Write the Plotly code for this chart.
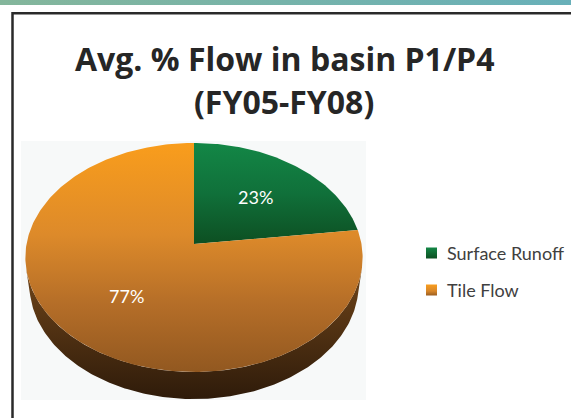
import numpy as np
import plotly.graph_objects as go

# ---------------- data ----------------
categories = ["Surface Runoff", "Tile Flow"]
values = [23, 77]
pct_labels = ["23%", "77%"]
title_lines = ["Avg. % Flow in basin P1/P4", "(FY05-FY08)"]

# ---------------- style ----------------
W, H = 571, 418
top_scales = [
    [[0, "#138746"], [0.5, "#10703a"], [1, "#0d4f22"]],
    [[0, "#f99d1c"], [0.4, "#dd8a2a"], [0.7, "#b56e28"], [1, "#925820"]],
]
side_scales = [
    [[0, "#0d4f22"], [1, "#06260f"]],
    [[0, "#6e4419"], [0.5, "#4f3012"], [1, "#2e1b0a"]],
]
legend_scales = [
    [[0, "#138746"], [1, "#0d4f22"]],
    [[0, "#f99d1c"], [0.6, "#d7862a"], [1, "#9a5d20"]],
]
FONT = "Lato"
TITLE_FONT = "Open Sans"

# 3D pie geometry (perspective projection of a tilted disc)
CX, CY = 194.0, 244.0
FOCAL = 1050.0
DIST = 6.27
ELEV = np.radians(42.4)
THICK = 0.223
LABEL_R = 0.58


def proj(x, y, z):
    v = y * np.sin(ELEV) + z * np.cos(ELEV)
    depth = DIST + y * np.cos(ELEV) - z * np.sin(ELEV)
    return CX + FOCAL * x / depth, CY - FOCAL * v / depth


def rim(theta, z):
    return proj(np.sin(theta), np.cos(theta), np.full_like(theta, z))


fig = go.Figure()

# top decorative band
fig.add_trace(go.Scatter(
    x=[0, W, W, 0, 0], y=[0, 0, 5, 5, 0], mode="lines", fill="toself",
    line=dict(width=0), hoverinfo="skip", showlegend=False,
    fillgradient=dict(type="horizontal",
                      colorscale=[[0, "#84b69b"], [1, "#68b0b9"]]),
))

total = float(sum(values))
bounds = np.concatenate([[0], np.cumsum(values)]) / total * 2 * np.pi
vis0 = np.arccos(-1.0 / (DIST * np.cos(ELEV)))
vis1 = 2 * np.pi - vis0

# side walls (drawn first)
for i, cat in enumerate(categories):
    a, b = max(bounds[i], vis0), min(bounds[i + 1], vis1)
    if b <= a:
        continue
    th = np.linspace(a, b, 200)
    xt, yt = rim(th, 0.0)
    xb, yb = rim(th[::-1], -THICK)
    xs = np.concatenate([xt, xb, xt[:1]])
    ys = np.concatenate([yt, yb, yt[:1]])
    fig.add_trace(go.Scatter(
        x=xs, y=ys, mode="lines", fill="toself", line=dict(width=0),
        hoverinfo="skip", showlegend=False,
        fillgradient=dict(type="vertical", colorscale=side_scales[i],
                          start=float(ys.min()), stop=float(ys.max())),
    ))

# top faces
for i, cat in enumerate(categories):
    n = max(int(400 * values[i] / total), 20)
    th = np.linspace(bounds[i], bounds[i + 1], n)
    xr, yr = rim(th, 0.0)
    xs = np.concatenate([[CX], xr, [CX]])
    ys = np.concatenate([[CY], yr, [CY]])
    fig.add_trace(go.Scatter(
        x=xs, y=ys, mode="lines", fill="toself", line=dict(width=0),
        name=cat, hoverinfo="name", showlegend=False,
        fillgradient=dict(type="vertical", colorscale=top_scales[i],
                          start=float(ys.min()), stop=float(ys.max())),
    ))
    mid = (bounds[i] + bounds[i + 1]) / 2
    lx, ly = proj(LABEL_R * np.sin(mid), LABEL_R * np.cos(mid), 0.0)
    fig.add_annotation(x=float(lx), y=float(ly), text=pct_labels[i],
                       showarrow=False, xanchor="center", yanchor="middle",
                       font=dict(family=FONT, size=18, color="white"))

# legend (built from categories)
LEG_X, LEG_Y0, LEG_DY, LEG_S = 426.0, 253.0, 37.0, 11.0
for i, cat in enumerate(categories):
    yc = LEG_Y0 + i * LEG_DY
    sx = [LEG_X, LEG_X + LEG_S, LEG_X + LEG_S, LEG_X, LEG_X]
    sy = [yc - LEG_S / 2, yc - LEG_S / 2, yc + LEG_S / 2, yc + LEG_S / 2, yc - LEG_S / 2]
    fig.add_trace(go.Scatter(
        x=sx, y=sy, mode="lines", fill="toself", line=dict(width=0),
        hoverinfo="skip", showlegend=False,
        fillgradient=dict(type="vertical", colorscale=legend_scales[i],
                          start=min(sy), stop=max(sy)),
    ))
    fig.add_annotation(x=LEG_X + 19, y=yc, text=cat, showarrow=False,
                       xanchor="left", yanchor="middle",
                       font=dict(family=FONT, size=18, color="#404040"))

# title
for j, (line, yy) in enumerate(zip(title_lines, [58, 101])):
    fig.add_annotation(x=284, y=yy, text="<b>%s</b>" % line, showarrow=False,
                       xanchor="center", yanchor="middle",
                       font=dict(family=TITLE_FONT, size=32, color="#262626"))

fig.update_layout(
    width=W, height=H, margin=dict(l=0, r=0, t=0, b=0),
    paper_bgcolor="white", plot_bgcolor="white",
    xaxis=dict(range=[0, W], visible=False, fixedrange=True),
    yaxis=dict(range=[H, 0], visible=False, fixedrange=True),
    shapes=[
        dict(type="rect", xref="x", yref="y", x0=21, y0=141, x1=366, y1=400,
             fillcolor="#f7f9f9", line=dict(width=0), layer="below"),
        dict(type="rect", xref="x", yref="y", x0=12.5, y0=13.3, x1=W + 40, y1=H + 40,
             line=dict(color="#2a2a2a", width=2.5), fillcolor="rgba(0,0,0,0)",
             layer="below"),
    ],
)

fig.write_html("out.html", config={"displayModeBar": False},
               post_script="document.body.style.margin='0';"
                           "document.body.style.overflow='hidden';")
